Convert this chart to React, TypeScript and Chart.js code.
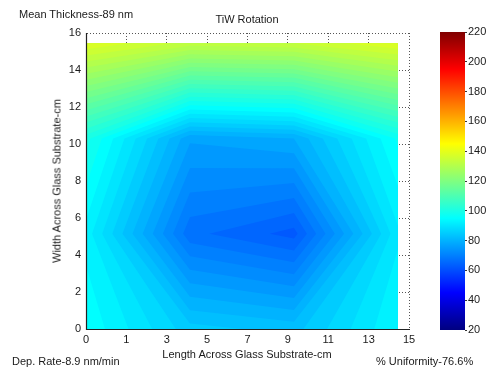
import React, { useEffect, useRef } from "react";
import { Chart, registerables } from "chart.js";

Chart.register(...registerables);

// ---- data ----
const gridX = [0, 5.15, 10.3, 15.45]; // cm, length across substrate
const gridY = [0, 5.15, 10.3, 15.45]; // cm, width across substrate
// thickness values (nm) for each row of gridY (bottom to top), one value per gridX
const rowY0 = [97, 86, 84, 95];
const rowY5 = [94, 68.3, 64, 92];
const rowY10 = [101, 78, 80, 98];
const rowY15 = [140, 134, 135, 140];
const thicknessRows = [rowY0, rowY5, rowY10, rowY15];

const xTickLabels = ["0", "1", "3", "5", "7", "9", "11", "13", "15"];
const colorMin = 20;
const colorMax = 220;
const contourStep = 2.5;

const FONT = "'Liberation Sans', Arial, Helvetica, sans-serif";

function jet(t: number): string {
  const c = (v: number) => Math.max(0, Math.min(1, v));
  const r = c(Math.min(4 * t - 1.5, -4 * t + 4.5));
  const g = c(Math.min(4 * t - 0.5, -4 * t + 3.5));
  const b = c(Math.min(4 * t + 0.5, -4 * t + 2.5));
  return `rgb(${Math.round(r * 255)},${Math.round(g * 255)},${Math.round(b * 255)})`;
}

const contourPlugin = {
  id: "contourFill",
  beforeDatasetsDraw(chart: any) {
    const { ctx, scales } = chart;
    const xs = scales.x;
    const ys = scales.y;
    const flat = thicknessRows.flat();
    const vmin = Math.min(...flat);
    const vmax = Math.max(...flat);
    const levels: number[] = [];
    for (let L = Math.floor(vmin / contourStep) * contourStep; L <= vmax; L += contourStep) levels.push(L);
    ctx.save();
    for (const L of levels) {
      ctx.beginPath();
      let any = false;
      for (let j = 0; j < gridY.length - 1; j++) {
        for (let i = 0; i < gridX.length - 1; i++) {
          const corners = [
            [gridX[i], gridY[j], thicknessRows[j][i]],
            [gridX[i + 1], gridY[j], thicknessRows[j][i + 1]],
            [gridX[i + 1], gridY[j + 1], thicknessRows[j + 1][i + 1]],
            [gridX[i], gridY[j + 1], thicknessRows[j + 1][i]],
          ];
          const pts: number[][] = [];
          for (let e = 0; e < 4; e++) {
            const a = corners[e];
            const b = corners[(e + 1) % 4];
            const ina = a[2] >= L;
            const inb = b[2] >= L;
            if (ina) pts.push([a[0], a[1]]);
            if (ina !== inb) {
              const t = (L - a[2]) / (b[2] - a[2]);
              pts.push([a[0] + t * (b[0] - a[0]), a[1] + t * (b[1] - a[1])]);
            }
          }
          if (pts.length >= 3) {
            any = true;
            pts.forEach((p, k) => {
              const px = xs.getPixelForValue(p[0]);
              const py = ys.getPixelForValue(p[1]);
              if (k === 0) ctx.moveTo(px, py);
              else ctx.lineTo(px, py);
            });
            ctx.closePath();
          }
        }
      }
      if (any) {
        ctx.fillStyle = jet((L - colorMin) / (colorMax - colorMin));
        ctx.fill("nonzero");
      }
    }
    ctx.restore();
  },
};

const axesPlugin = {
  id: "axesLines",
  afterDatasetsDraw(chart: any) {
    const { ctx, chartArea } = chart;
    ctx.save();
    ctx.strokeStyle = "#222";
    ctx.lineWidth = 1.2;
    ctx.beginPath();
    ctx.moveTo(chartArea.left + 0.5, chartArea.top);
    ctx.lineTo(chartArea.left + 0.5, chartArea.bottom + 0.5);
    ctx.lineTo(chartArea.right, chartArea.bottom + 0.5);
    ctx.stroke();
    ctx.restore();
  },
};

const textStyle: React.CSSProperties = {
  position: "absolute",
  fontFamily: FONT,
  fontSize: 11,
  color: "#1a1a1a",
  whiteSpace: "nowrap",
  lineHeight: "13px",
};

export default function App() {
  const mainRef = useRef<HTMLCanvasElement>(null);
  const barRef = useRef<HTMLCanvasElement>(null);

  useEffect(() => {
    Chart.defaults.font.family = FONT;
    const main = new Chart(mainRef.current!, {
      type: "scatter",
      data: { datasets: [{ data: [], pointRadius: 0 }] },
      options: {
        animation: false,
        responsive: false,
        events: [],
        layout: { padding: { left: 56, right: 85, top: 33, bottom: 22 } },
        plugins: { legend: { display: false }, tooltip: { enabled: false } },
        scales: {
          x: {
            type: "linear",
            min: 0,
            max: 16,
            afterFit: (s: any) => {
              s.height = 20;
            },
            ticks: {
              stepSize: 2,
              padding: 4,
              color: "#1a1a1a",
              font: { size: 11, family: FONT },
              maxRotation: 0,
              autoSkip: false,
              callback: (_v: any, i: number) => xTickLabels[i],
            },
            grid: {
              drawTicks: false,
              color: "#555",
              lineWidth: 1,
            },
            border: { display: true, color: "#222", width: 1, dash: [1, 2] },
          },
          y: {
            type: "linear",
            min: 0,
            max: 16,
            afterFit: (s: any) => {
              s.width = 30;
            },
            ticks: {
              stepSize: 2,
              padding: 5,
              color: "#1a1a1a",
              font: { size: 11, family: FONT },
              autoSkip: false,
            },
            grid: {
              drawTicks: false,
              color: "#555",
              lineWidth: 1,
            },
            border: { display: true, color: "#222", width: 1, dash: [1, 2] },
          },
        },
      },
      plugins: [contourPlugin, axesPlugin],
    } as any);
    (main.options.scales as any).x.grid.borderDash = [1, 2];
    (main.options.scales as any).y.grid.borderDash = [1, 2];
    main.update();

    const bar = new Chart(barRef.current!, {
      type: "bar",
      data: {
        labels: [""],
        datasets: [
          {
            data: [[colorMin, colorMax]] as any,
            barPercentage: 1,
            categoryPercentage: 1,
            borderWidth: 0,
            backgroundColor: (c: any) => {
              const area = c.chart.chartArea;
              if (!area) return "#000080";
              const grad = c.chart.ctx.createLinearGradient(0, area.bottom, 0, area.top);
              for (let k = 0; k <= 32; k++) grad.addColorStop(k / 32, jet(k / 32));
              return grad;
            },
          },
        ],
      },
      options: {
        animation: false,
        responsive: false,
        events: [],
        layout: { padding: { left: 15, right: 4, top: 32, bottom: 41 } },
        plugins: { legend: { display: false }, tooltip: { enabled: false } },
        scales: {
          x: { display: false },
          y: {
            position: "right",
            min: colorMin,
            max: colorMax,
            afterFit: (s: any) => {
              s.width = 25;
            },
            ticks: {
              stepSize: 20,
              padding: 1,
              color: "#1a1a1a",
              font: { size: 11, family: FONT },
            },
            grid: { drawOnChartArea: false, drawTicks: true, tickLength: 2, color: "#333" },
            border: { display: false },
          },
        },
      },
    } as any);

    return () => {
      main.destroy();
      bar.destroy();
    };
  }, []);

  return (
    <div style={{ position: "fixed", left: 0, top: 0, width: 494, height: 371, background: "#fff", overflow: "hidden" }}>
      <canvas ref={mainRef} width={494} height={371} style={{ position: "absolute", left: 0, top: 0 }} />
      <canvas ref={barRef} width={69} height={371} style={{ position: "absolute", left: 425, top: 0 }} />
      <div style={{ ...textStyle, left: 19, top: 8 }}>Mean Thickness-89 nm</div>
      <div style={{ ...textStyle, left: 247, top: 13, transform: "translateX(-50%)" }}>TiW Rotation</div>
      <div style={{ ...textStyle, left: 247, top: 348, transform: "translateX(-50%)" }}>Length Across Glass Substrate-cm</div>
      <div style={{ ...textStyle, left: 12, top: 355 }}>Dep. Rate-8.9 nm/min</div>
      <div style={{ ...textStyle, left: 376, top: 355 }}>% Uniformity-76.6%</div>
      <div
        style={{
          ...textStyle,
          left: 57,
          top: 181,
          transform: "translate(-50%, -50%) rotate(-90deg)",
        }}
      >
        Width Across Glass Substrate-cm
      </div>
    </div>
  );
}
